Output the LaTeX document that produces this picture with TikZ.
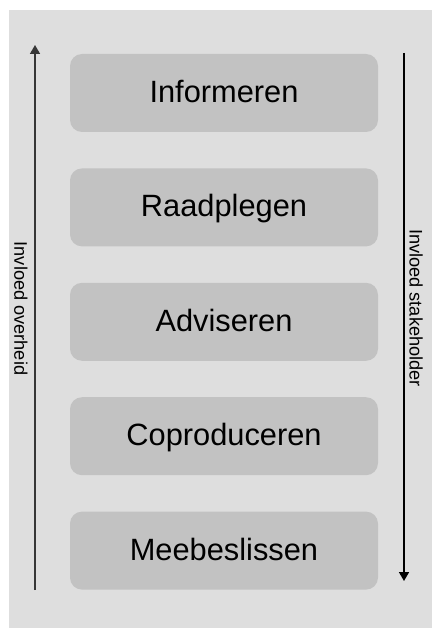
\documentclass[tikz,border=0pt]{standalone}
\usepackage{fontspec}
\setmainfont{Liberation Sans}
\usetikzlibrary{arrows.meta, positioning}
\definecolor{panelgray}{RGB}{222,222,222}
\definecolor{boxgray}{RGB}{194,194,194}
\definecolor{arrowdark}{RGB}{55,55,55}
\tikzset{
  stap/.style={rectangle, fill=boxgray, minimum width=308pt, minimum height=78pt,
    rounded corners=12pt, inner sep=0pt, text height=22pt, text depth=3pt,
    font=\fontsize{30.8}{36}\selectfont},
  zijlabel/.style={rotate=-90, inner sep=0pt, font=\fontsize{18.2}{22}\selectfont},
  pijl/.style={-{Triangle[width=10pt,length=9pt]}, line width=1.6pt}
}

\begin{document}
\begin{tikzpicture}[x=1pt, y=-1pt]
  \useasboundingbox (0,0) rectangle (432,628);
  % Panel
  \fill[panelgray] (9,10) rectangle (432,628);
  % Participation steps
  \foreach \i/\lbl in {1/Informeren, 2/Raadplegen, 3/Adviseren, 4/Coproduceren, 5/Meebeslissen} {
    \node[stap] (stap\i) at (224, {93+(\i-1)*114.4}) {\lbl};
  }
  % Side arrows
  \coordinate (overheidvan) at (35,590);
  \coordinate (overheidnaar) at (35,45);
  \coordinate (stakevan) at (404,53);
  \coordinate (stakenaar) at (404,581);
  \draw[pijl, color=arrowdark] (overheidvan) -- (overheidnaar);
  \draw[pijl, color=black] (stakevan) -- (stakenaar);
  % Side labels
  \node[zijlabel] (overheid) at (21,308.5) {Invloed overheid};
  \node[zijlabel] (stakeholder) at (416,308) {Invloed stakeholder};
\end{tikzpicture}
\end{document}
